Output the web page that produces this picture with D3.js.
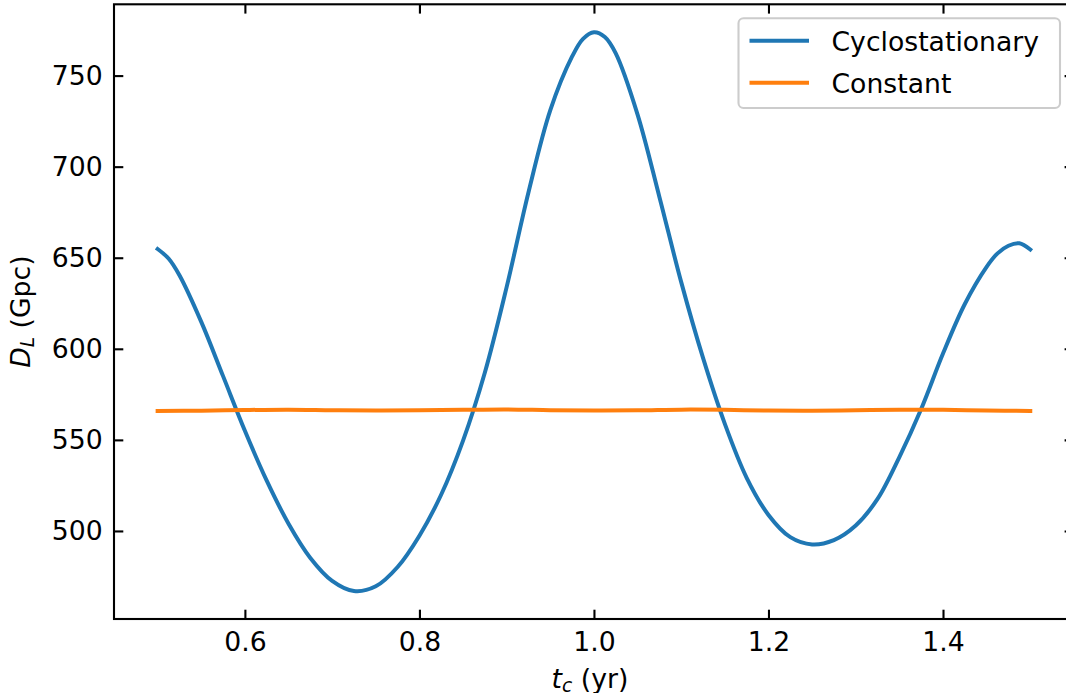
<!DOCTYPE html>
<html>
<head>
<meta charset="utf-8">
<script src="https://cdn.jsdelivr.net/npm/d3@7"></script>
<style>
  html, body { margin: 0; padding: 0; background: #fff; }
  svg { display: block; font-family: "DejaVu Sans", sans-serif; }
</style>
</head>
<body>
<svg id="chart" width="1066" height="693"></svg>
<script>
// Coalescence time t_c (yr) for the cyclostationary series
const tcCyclo = [
  0.500, 0.5125, 0.525, 0.550, 0.575, 0.600, 0.625, 0.650, 0.675, 0.700, 0.725,
  0.750, 0.775, 0.800, 0.825, 0.850, 0.875, 0.900, 0.925, 0.950, 0.975, 0.9875,
  1.000, 1.0125, 1.025, 1.050, 1.075, 1.100, 1.125, 1.150, 1.175, 1.200, 1.225,
  1.250, 1.275, 1.300, 1.325, 1.350, 1.375, 1.400, 1.425, 1.450, 1.4625,
  1.475, 1.4875, 1.500
];
// Luminosity distance D_L (Gpc), cyclostationary noise
const dlCyclo = [
  654.8, 649.6, 640.4, 614.8, 585.0, 555.0, 527.6, 504.0, 485.2, 472.6, 467.0,
  469.6, 480.2, 497.4, 520.0, 549.6, 587.0, 634.0, 686.0, 731.0, 760.5, 770.2,
  773.8, 771.2, 762.2, 728.6, 683.4, 636.6, 595.0, 558.8, 529.2, 508.8, 496.6,
  492.6, 495.0, 503.0, 517.6, 540.6, 567.0, 597.4, 624.6, 645.0, 652.4,
  656.6, 657.9, 654.5
];
// Coalescence time t_c (yr) for the constant-noise series
const tcConst = [
  0.50, 0.55, 0.60, 0.65, 0.70, 0.75, 0.80, 0.85, 0.90, 0.95,
  1.00, 1.05, 1.10, 1.15, 1.20, 1.25, 1.30, 1.35, 1.40, 1.45, 1.50
];
// Luminosity distance D_L (Gpc), constant noise
const dlConst = [
  565.9, 566.0, 566.4, 566.6, 566.3, 566.1, 566.2, 566.5, 566.7, 566.3,
  566.1, 566.2, 566.6, 566.5, 566.1, 566.0, 566.3, 566.6, 566.5, 566.1, 565.9
];
const seriesNames = ["Cyclostationary", "Constant"];
const seriesColors = ["#1f77b4", "#ff7f0e"];
const xTicks = [0.6, 0.8, 1.0, 1.2, 1.4];
const yTicks = [500, 550, 600, 650, 700, 750];

const FONT = 26.67;
const margin = { left: 114, top: 4.3, right: 1073.9, bottom: 619 };

const svg = d3.select("#chart");

// Axis limits with 5% padding around the data
const xMin = d3.min(tcCyclo.concat(tcConst)), xMax = d3.max(tcCyclo.concat(tcConst));
const allY = dlCyclo.concat(dlConst);
const yMin = d3.min(allY), yMax = d3.max(allY);
const xPad = (xMax - xMin) * 0.05, yPad = (yMax - yMin) * 0.05;

const x = d3.scaleLinear().domain([xMin - xPad, xMax + xPad]).range([margin.left, margin.right]);
const y = d3.scaleLinear().domain([yMin - yPad, yMax + yPad]).range([margin.bottom, margin.top]);

const plot = svg.append("g");
plot.append("clipPath").attr("id", "clip").append("rect")
  .attr("x", margin.left).attr("y", margin.top)
  .attr("width", margin.right - margin.left).attr("height", margin.bottom - margin.top);

const lineGen = d3.line().x(d => x(d[0])).y(d => y(d[1])).curve(d3.curveCatmullRom.alpha(0.5));

const cyclo = tcCyclo.map((t, i) => [t, dlCyclo[i]]);
const cnst = tcConst.map((t, i) => [t, dlConst[i]]);

const lines = plot.append("g").attr("clip-path", "url(#clip)");
lines.append("path").datum(cyclo)
  .attr("d", lineGen)
  .attr("fill", "none").attr("stroke", seriesColors[0])
  .attr("stroke-width", 4).attr("stroke-linejoin", "round").attr("stroke-linecap", "square");
lines.append("path").datum(cnst)
  .attr("d", lineGen)
  .attr("fill", "none").attr("stroke", seriesColors[1])
  .attr("stroke-width", 4).attr("stroke-linejoin", "round").attr("stroke-linecap", "square");

// Axes: ticks point inward on all four sides
const TICK = 9.3;
function styleAxis(g) {
  g.select(".domain").remove();
  g.selectAll(".tick line").attr("stroke", "#000").attr("stroke-width", 2.1);
  g.selectAll(".tick text").attr("fill", "#000").style("font-size", FONT + "px")
    .style("font-family", "'DejaVu Sans', sans-serif");
}

svg.append("g").attr("transform", `translate(0,${margin.bottom})`)
  .call(d3.axisBottom(x).tickValues(xTicks).tickFormat(d3.format(".1f"))
    .tickSizeInner(-TICK).tickSizeOuter(0).tickPadding(13))
  .call(styleAxis);
svg.append("g").attr("transform", `translate(0,${margin.top})`)
  .call(d3.axisTop(x).tickValues(xTicks).tickFormat("")
    .tickSizeInner(-TICK).tickSizeOuter(0))
  .call(styleAxis);
svg.append("g").attr("transform", `translate(${margin.left},0)`)
  .call(d3.axisLeft(y).tickValues(yTicks).tickFormat(d3.format("d"))
    .tickSizeInner(-TICK).tickSizeOuter(0).tickPadding(11.3))
  .call(styleAxis);
svg.append("g").attr("transform", `translate(${margin.right},0)`)
  .call(d3.axisRight(y).tickValues(yTicks).tickFormat("")
    .tickSizeInner(-TICK).tickSizeOuter(0))
  .call(styleAxis);

// Frame
svg.append("rect")
  .attr("x", margin.left).attr("y", margin.top)
  .attr("width", margin.right - margin.left).attr("height", margin.bottom - margin.top)
  .attr("fill", "none").attr("stroke", "#000").attr("stroke-width", 2.1);

// Axis labels
const xl = svg.append("text")
  .attr("x", (margin.left + margin.right) / 2 - 4).attr("y", 688)
  .attr("text-anchor", "middle").style("font-size", FONT + "px").attr("fill", "#000");
xl.append("tspan").attr("font-style", "italic").text("t");
xl.append("tspan").attr("font-style", "italic").attr("dy", 4).style("font-size", (FONT * 0.7) + "px").text("c");
xl.append("tspan").attr("dy", -4).text(" (yr)");

const yl = svg.append("text")
  .attr("transform", `translate(30,${(margin.top + margin.bottom) / 2}) rotate(-90)`)
  .attr("text-anchor", "middle").style("font-size", FONT + "px").attr("fill", "#000");
yl.append("tspan").attr("font-style", "italic").text("D");
yl.append("tspan").attr("font-style", "italic").attr("dy", 4).style("font-size", (FONT * 0.7) + "px").text("L");
yl.append("tspan").attr("dy", -4).text(" (Gpc)");

// Legend
const legend = svg.append("g");
legend.append("rect")
  .attr("x", 738.5).attr("y", 18.3).attr("width", 321.5).attr("height", 89.7)
  .attr("rx", 5).attr("ry", 5)
  .attr("fill", "#fff").attr("fill-opacity", 0.8)
  .attr("stroke", "#cccccc").attr("stroke-width", 2.1);
const legendRows = [40.7, 82.7];
seriesNames.forEach((name, i) => {
  legend.append("line")
    .attr("x1", 749.5).attr("x2", 809).attr("y1", legendRows[i]).attr("y2", legendRows[i])
    .attr("stroke", seriesColors[i]).attr("stroke-width", 4);
  legend.append("text")
    .attr("x", 831.5).attr("y", legendRows[i] + 9.8)
    .style("font-size", FONT + "px").attr("fill", "#000").text(name);
});
</script>
</body>
</html>
